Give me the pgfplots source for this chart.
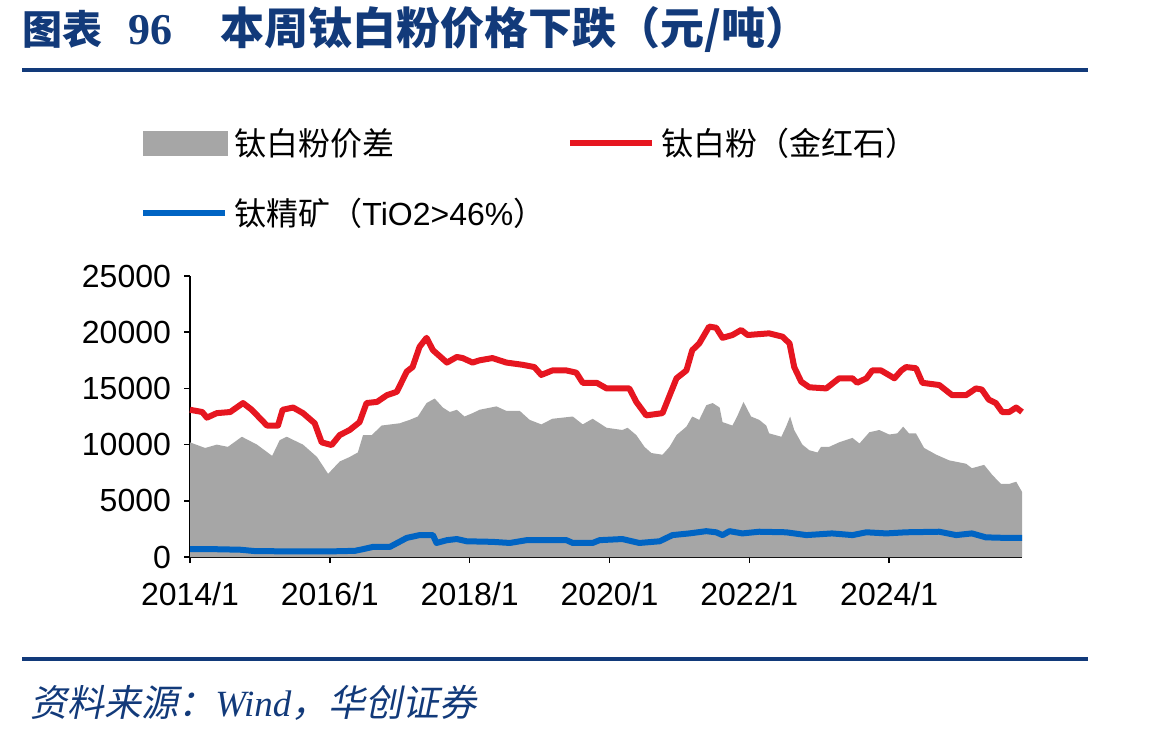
\documentclass[border=0pt]{standalone}
\usepackage{pgfplots}
\pgfplotsset{compat=1.18}
\usepackage{fontspec}
\setmainfont{Liberation Sans}
\newfontfamily\cjk{Noto Sans CJK SC}
\newfontfamily\cjkit[FakeSlant=0.2]{Noto Sans CJK SC}
\newfontfamily\serifb{Liberation Serif}
\definecolor{navy}{RGB}{18,58,122}
\definecolor{areagray}{RGB}{166,166,166}
\definecolor{tred}{RGB}{230,22,32}
\definecolor{tblue}{RGB}{0,100,195}

\pgfplotstableread{
m v
0 10200
2.6 9700
4.6 10000
6.5 9800
8.9 10700
11.5 10000
14.1 9000
15.4 10400
16.6 10700
19.4 10000
21.8 8900
23.7 7400
25.7 8500
27.4 8900
28.8 9300
29.7 10850
31.2 10850
32.9 11700
36.0 11900
37.7 12200
39.1 12500
40.6 13700
42.0 14100
43.4 13300
44.6 12900
45.8 13100
47.1 12500
48.5 12800
49.7 13100
52.6 13400
54.3 13000
56.6 13000
58.3 12200
60.3 11800
62.2 12300
65.7 12500
67.4 11800
69.1 12300
71.5 11500
74.2 11300
75.1 11500
76.6 10850
78.0 9800
79.2 9250
81.1 9100
82.3 9800
83.5 10850
85.2 11600
86.2 12500
87.4 12200
88.6 13500
89.7 13700
90.9 13300
91.4 12000
93.1 11700
93.9 12500
95.0 13800
96.3 12500
97.7 12200
98.9 11700
99.4 11000
101.5 10700
102.3 11600
103.0 12500
103.7 11300
105.1 10000
106.3 9500
107.7 9300
108.3 9800
109.7 9800
111.4 10200
113.7 10600
114.9 10100
116.6 11100
118.3 11300
120.0 10900
121.4 11000
122.4 11600
123.4 11000
124.6 11000
126.0 9700
128.1 9100
130.3 8600
133.2 8300
134.2 7900
136.3 8200
137.7 7300
139.2 6500
140.6 6500
141.8 6700
142.8 5800
}\spread

\pgfplotstableread{
m v
0 13100
2.1 12900
2.9 12400
4.6 12800
6.9 12900
9.1 13700
10.6 13100
13.2 11700
15.1 11700
15.9 13100
17.7 13300
19.4 12800
21.4 11900
22.6 10200
24.3 9960
25.7 10850
27.4 11300
29.1 12000
30.3 13700
32.1 13800
33.8 14400
35.5 14700
37.2 16500
38.2 16900
39.4 18700
40.6 19500
41.7 18400
44.1 17300
45.8 17800
46.8 17700
48.5 17300
49.7 17500
51.9 17700
54.3 17300
57.1 17100
59.1 16900
60.3 16200
62.2 16600
64.6 16600
66.3 16400
67.4 15500
69.8 15500
71.5 15000
75.4 15000
76.6 13800
78.3 12600
81.1 12800
83.5 15900
85.2 16600
86.2 18400
87.4 19000
89.1 20500
90.3 20400
91.4 19500
93.1 19750
94.6 20200
95.7 19750
99.4 19900
101.7 19600
102.9 19000
103.7 16900
104.9 15600
106.3 15100
109.2 15000
111.4 15900
113.7 15900
114.5 15500
116.1 15900
117.1 16600
118.6 16600
120.9 15900
122.1 16600
122.9 16900
124.6 16800
125.7 15500
128.6 15300
130.8 14400
133.2 14400
134.9 15000
135.9 14900
137.1 14000
138.3 13700
139.4 12900
140.6 12900
141.8 13300
142.8 12900
}\rutile

\pgfplotstableread{
m v
0 700
3.9 700
8.6 650
11.1 530
17.1 500
24.0 500
28.3 550
29.7 700
31.4 900
34.3 900
37.2 1700
39.4 1950
41.7 1950
42.3 1250
44.1 1500
45.8 1600
47.5 1400
51.9 1350
54.9 1250
57.8 1500
64.6 1500
65.7 1250
69.1 1250
70.3 1500
74.2 1600
77.1 1250
80.6 1400
82.8 1950
85.7 2100
88.6 2300
90.3 2200
91.4 1950
92.6 2300
94.8 2100
97.7 2250
102.3 2200
105.8 1950
110.2 2100
113.7 1950
116.1 2200
119.5 2100
122.9 2200
128.6 2250
131.5 1950
134.2 2100
136.6 1750
140.1 1700
142.8 1700
}\ilmenite

\begin{document}
\begin{tikzpicture}
\useasboundingbox (0pt,0pt) rectangle (574.5pt,-368pt);
% title
\node[anchor=base west, inner sep=0pt, text=navy] at (11pt,-22pt)
  {\fontsize{20}{20}\selectfont\cjk\bfseries 图表};
\node[anchor=base west, inner sep=0pt, text=navy] at (64pt,-22pt)
  {\fontsize{22}{22}\selectfont\serifb\bfseries 96};
\node[anchor=base west, inner sep=0pt, text=navy] at (110pt,-22pt)
  {\fontsize{22}{22}\selectfont\cjk\bfseries 本周钛白粉价格下跌（元/吨）};
\fill[navy] (11pt,-34pt) rectangle (544pt,-36pt);
\fill[navy] (11pt,-328.5pt) rectangle (544pt,-330.5pt);
% source
\node[anchor=base west, inner sep=0pt, text=navy] at (15pt,-358pt)
  {\fontsize{18.5}{18.5}\selectfont\cjkit 资料来源：{\serifb\itshape Wind}，华创证券};

\begin{axis}[
  at={(95pt,-278.5pt)}, anchor=south west,
  scale only axis, width=416pt, height=140.5pt,
  xmin=0, xmax=142.8, ymin=0, ymax=25000,
  axis x line*=bottom, axis y line*=left,
  axis line style={black, line width=0.8pt},
  tick align=outside, major tick length=3pt,
  tick style={black, line width=0.8pt},
  xtick={0,24,48,72,96,120},
  xticklabels={2014/1,2016/1,2018/1,2020/1,2022/1,2024/1},
  ytick={0,5000,10000,15000,20000,25000},
  scaled y ticks=false,
  /pgf/number format/1000 sep={},
  /pgf/number format/assume math mode=true,
  tick label style={font=\fontsize{16}{16}\selectfont},
  yticklabel style={xshift=-3pt},
  xticklabel style={yshift=-6pt},
  clip=false,
  legend columns=2,
  legend cell align=left,
  legend style={at={(-0.06,1.55)}, anchor=north west, draw=none, fill=none,
    inner sep=0pt, font=\fontsize{16}{16}\selectfont, row sep=14pt,
    nodes={inner sep=3pt},
    /tikz/every even column/.append style={column sep=8pt}},
  legend image code/.code={\draw[#1, line width=3pt] (0pt,0pt) -- (41pt,0pt);},
]
\addplot[fill=areagray, draw=none,
  legend image code/.code={\fill[areagray] (0pt,-6.5pt) rectangle (42.5pt,6pt);}]
  table[x=m, y=v] {\spread} \closedcycle;
\addlegendentry{\cjk 钛白粉价差}
\addplot[tred, line width=3pt, line join=round] table[x=m, y=v] {\rutile};
\addlegendentry{\cjk 钛白粉（金红石）}
\addplot[tblue, line width=3pt, line join=round] table[x=m, y=v] {\ilmenite};
\addlegendentry{{\cjk 钛精矿（}TiO2>46\%{\cjk ）}}
\end{axis}
\end{tikzpicture}
\end{document}
